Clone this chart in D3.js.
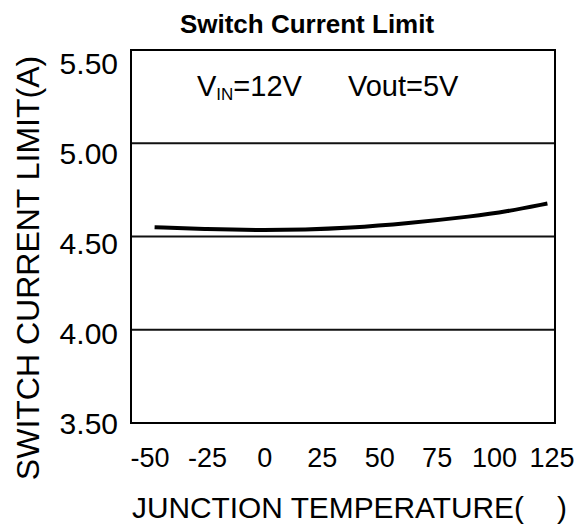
<!DOCTYPE html>
<html>
<head>
<meta charset="utf-8">
<script src="https://cdn.jsdelivr.net/npm/d3@7"></script>
<style>
  html, body { margin: 0; padding: 0; background: #fff; }
  svg { display: block; }
  text { font-family: Arial, "Liberation Sans", sans-serif; fill: #000; }
</style>
</head>
<body>
<svg id="chart" width="586" height="530"></svg>
<script>
// Data
const temperatures = [-48, -25, -3, 18, 36, 62, 91, 105, 123];
const currentLimit = [4.550, 4.539, 4.534, 4.537, 4.545, 4.570, 4.609, 4.633, 4.677];
const xTicks = [-50, -25, 0, 25, 50, 75, 100, 125];
const yTicks = [3.5, 4.0, 4.5, 5.0, 5.5];
const gridValues = [4.0, 4.5, 5.0];
const titleText = "Switch Current Limit";
const xTitle = "JUNCTION TEMPERATURE(\u00a0\u00a0\u00a0\u00a0)";
const yTitle = "SWITCH CURRENT LIMIT(A)";

const svg = d3.select("#chart");
const box = { left: 131, right: 555, top: 50, bottom: 423 };

const x = d3.scaleLinear().domain([-50, 125]).range([150, 552]);
const y = d3.scaleLinear().domain([3.5, 5.5]).range([box.bottom, box.top]);
const yLabel = d3.scaleLinear().domain([3.5, 5.5]).range([423, 63]);

// gridlines
svg.append("g").selectAll("line").data(gridValues).join("line")
  .attr("x1", box.left).attr("x2", box.right)
  .attr("y1", d => y(d)).attr("y2", d => y(d))
  .attr("stroke", "#111").attr("stroke-width", 2);

// frame
svg.append("rect")
  .attr("x", box.left).attr("y", box.top)
  .attr("width", box.right - box.left).attr("height", box.bottom - box.top)
  .attr("fill", "none").attr("stroke", "#000").attr("stroke-width", 2);

// curve
const line = d3.line()
  .x((d, i) => x(temperatures[i]))
  .y(d => y(d))
  .curve(d3.curveBasis);
svg.append("path").datum(currentLimit)
  .attr("d", line)
  .attr("fill", "none").attr("stroke", "#000").attr("stroke-width", 4);

// y tick labels
svg.append("g").selectAll("text").data(yTicks).join("text")
  .attr("x", 118).attr("y", d => yLabel(d)).attr("dy", "0.36em")
  .attr("text-anchor", "end").attr("font-size", 30)
  .text(d => d.toFixed(2));

// x tick labels
svg.append("g").selectAll("text").data(xTicks).join("text")
  .attr("x", d => x(d)).attr("y", 467)
  .attr("text-anchor", "middle").attr("font-size", 27)
  .text(d => d);

// title
svg.append("text").attr("x", 307).attr("y", 33)
  .attr("text-anchor", "middle").attr("font-size", 26).attr("font-weight", "bold")
  .text(titleText);

// annotation
const ann = svg.append("text").attr("x", 197).attr("y", 96).attr("font-size", 29);
ann.append("tspan").text("V");
ann.append("tspan").attr("font-size", 17).attr("dy", 4).text("IN");
ann.append("tspan").attr("dy", -4).text("=12V");
svg.append("text").attr("x", 348).attr("y", 96).attr("font-size", 29).text("Vout=5V");

// x axis title
svg.append("text").attr("x", 132).attr("y", 518)
  .attr("font-size", 30).attr("textLength", 435).attr("lengthAdjust", "spacingAndGlyphs")
  .text(xTitle);

// y axis title
svg.append("text")
  .attr("transform", "translate(39,268) rotate(-90)")
  .attr("text-anchor", "middle").attr("font-size", 32)
  .text(yTitle);
</script>
</body>
</html>
